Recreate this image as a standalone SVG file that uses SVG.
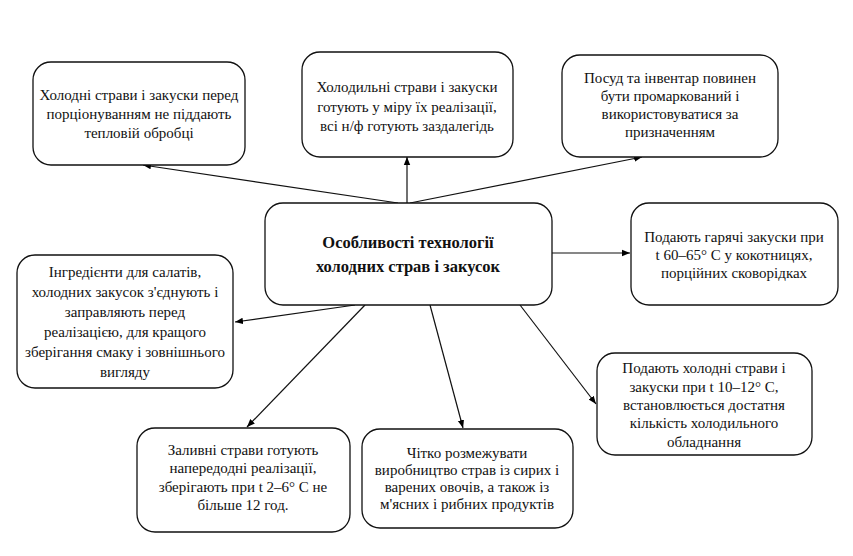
<svg xmlns="http://www.w3.org/2000/svg" width="853" height="556" viewBox="0 0 853 556" font-family="'Liberation Serif', 'Times New Roman', 'DejaVu Serif', serif">
<defs>
<marker id="ah" viewBox="0 0 10 10" refX="10" refY="5" markerWidth="8" markerHeight="8" markerUnits="userSpaceOnUse" orient="auto">
<path d="M0,1 L10,5 L0,9 Z" fill="#000"/>
</marker>
<style>
rect.b{fill:#fff;stroke:#111;stroke-width:1.3}
text{font-family:'Liberation Serif','Times New Roman','DejaVu Serif',serif;font-size:15px;fill:#111;text-anchor:middle}
text.t{font-weight:bold;font-size:16.5px}
.c line{stroke:#111;stroke-width:1.2;marker-end:url(#ah)}
</style>
</defs>
<rect width="853" height="556" fill="#fff"/>
<g class="c" id="connectors">
<line x1="398" y1="203" x2="143" y2="165"/>
<line x1="407" y1="203" x2="407" y2="157"/>
<line x1="410" y1="203" x2="642" y2="157"/>
<line x1="552" y1="253" x2="630" y2="253"/>
<line x1="355" y1="305" x2="235" y2="322"/>
<line x1="365" y1="305" x2="247" y2="427"/>
<line x1="430" y1="305" x2="463" y2="428"/>
<line x1="520" y1="305" x2="596" y2="404"/>
</g>
<g id="center">
<rect class="b" x="265" y="203" width="287" height="102" rx="18"/>
<text class="t" x="408" y="248">Особливості технології</text>
<text class="t" x="408" y="272">холодних страв і закусок</text>
</g>
<g id="n1">
<rect class="b" x="33" y="62" width="212" height="103" rx="18"/>
<text x="139" y="100">Холодні страви і закуски перед</text>
<text x="139" y="119">порціонуванням не піддають</text>
<text x="139" y="138">тепловій обробці</text>
</g>
<g id="n2">
<rect class="b" x="302" y="52" width="211" height="105" rx="18"/>
<text x="407" y="92">Холодильні страви і закуски</text>
<text x="407" y="112">готують у міру їх реалізації,</text>
<text x="407" y="131">всі н/ф готують заздалегідь</text>
</g>
<g id="n3">
<rect class="b" x="562" y="55" width="216" height="102" rx="18"/>
<text x="670" y="83">Посуд та інвентар повинен</text>
<text x="670" y="101">бути промаркований і</text>
<text x="670" y="119">використовуватися за</text>
<text x="670" y="137">призначенням</text>
</g>
<g id="n4">
<rect class="b" x="631" y="203" width="207" height="102" rx="18"/>
<text x="734" y="242">Подають гарячі закуски при</text>
<text x="734" y="260">t 60–65° C у кокотницях,</text>
<text x="734" y="278">порційних сковорідках</text>
</g>
<g id="n5">
<rect class="b" x="17" y="255" width="216" height="133" rx="18"/>
<text x="125" y="277">Інгредієнти для салатів,</text>
<text x="125" y="297">холодних закусок з'єднують і</text>
<text x="125" y="317">заправляють перед</text>
<text x="125" y="337">реалізацією, для кращого</text>
<text x="125" y="357">зберігання смаку і зовнішнього</text>
<text x="125" y="377">вигляду</text>
</g>
<g id="n6">
<rect class="b" x="597" y="353" width="215" height="102" rx="18"/>
<text x="704" y="373">Подають холодні страви і</text>
<text x="704" y="392">закуски при t 10–12° C,</text>
<text x="704" y="410">встановлюється достатня</text>
<text x="704" y="428">кількість холодильного</text>
<text x="704" y="447">обладнання</text>
</g>
<g id="n7">
<rect class="b" x="137" y="428" width="213" height="104" rx="18"/>
<text x="243" y="455">Заливні страви готують</text>
<text x="243" y="473">напередодні реалізації,</text>
<text x="243" y="492">зберігають при t 2–6° C не</text>
<text x="243" y="510">більше 12 год.</text>
</g>
<g id="n8">
<rect class="b" x="362" y="429" width="211" height="99" rx="18"/>
<text x="467" y="458">Чітко розмежувати</text>
<text x="467" y="475">виробництво страв із сирих і</text>
<text x="467" y="492">варених овочів, а також із</text>
<text x="467" y="509">м'ясних і рибних продуктів</text>
</g>
</svg>
